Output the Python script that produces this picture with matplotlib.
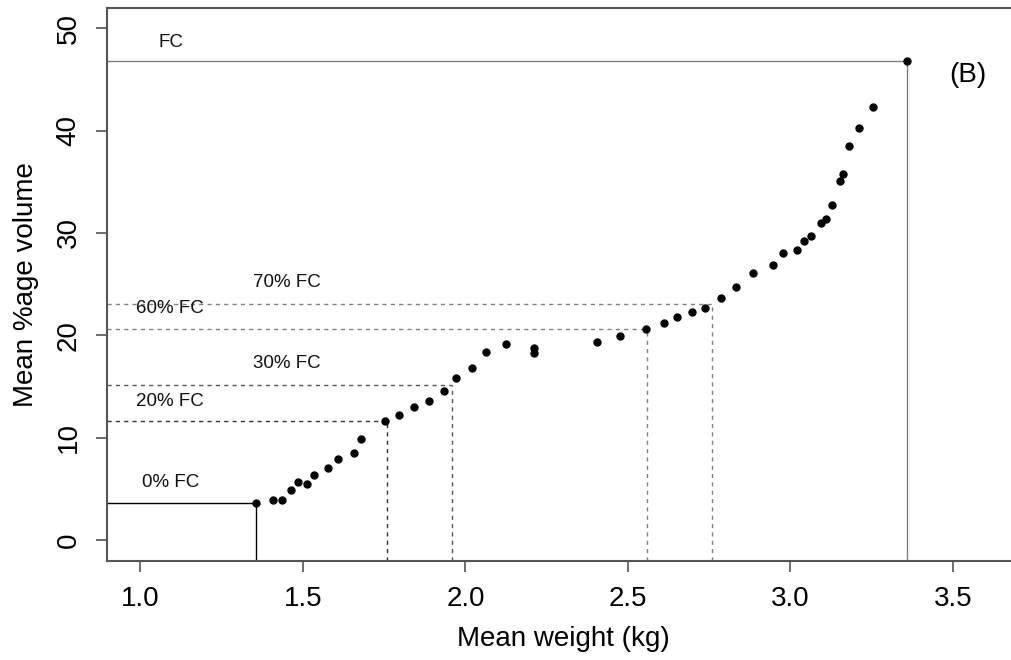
import matplotlib
matplotlib.use("Agg")
import matplotlib.pyplot as plt

plt.rcParams['font.family'] = ['Liberation Sans', 'DejaVu Sans']

weight = [1.357, 1.407, 1.437, 1.462, 1.486, 1.511, 1.534, 1.576, 1.607, 1.658,
          1.680, 1.751, 1.794, 1.841, 1.888, 1.933, 1.971, 2.021, 2.062, 2.125,
          2.210, 2.212, 2.404, 2.475, 2.555, 2.612, 2.650, 2.698, 2.736, 2.787,
          2.833, 2.886, 2.947, 2.976, 3.021, 3.041, 3.064, 3.093, 3.109, 3.127,
          3.153, 3.161, 3.181, 3.210, 3.254, 3.358]
volume = [3.64, 3.97, 3.97, 4.88, 5.69, 5.44, 6.35, 7.06, 7.94, 8.53,
          9.89, 11.59, 12.24, 13.02, 13.57, 14.55, 15.79, 16.83, 18.39, 19.17,
          18.78, 18.23, 19.31, 19.92, 20.61, 21.19, 21.75, 22.29, 22.72, 23.66,
          24.68, 26.10, 26.86, 28.00, 28.32, 29.17, 29.66, 30.96, 31.32, 32.74,
          35.03, 35.74, 38.48, 40.26, 42.29, 46.75]

# reference levels: label, x, y, text position
ref_labels = ["FC", "70% FC", "60% FC", "30% FC", "20% FC", "0% FC"]
ref_x = [3.357, 2.758, 2.557, 1.958, 1.759, 1.357]
ref_y = [46.75, 23.11, 20.60, 15.14, 11.59, 3.64]
label_x = [1.095, 1.449, 1.092, 1.449, 1.092, 1.092]
label_y = [48.6, 25.2, 22.6, 17.3, 13.5, 5.6]
ref_style = ["-", "--", "--", "--", "--", "-"]
ref_color = ["#808080", "#808080", "#808080", "#555555", "#333333", "#000000"]

xticks = [1.0, 1.5, 2.0, 2.5, 3.0, 3.5]
yticks = [0, 10, 20, 30, 40, 50]

fig = plt.figure(figsize=(10.12, 6.6), dpi=100)
ax = fig.add_axes([0.1054, 0.1505, 0.9018, 0.8379])
xmin, xmax = 0.896, 3.704
ymin, ymax = -2.0, 52.0
ax.set_xlim(xmin, xmax)
ax.set_ylim(ymin, ymax)

for lab, rx, ry, lx, ly, st, c in zip(ref_labels, ref_x, ref_y, label_x, label_y, ref_style, ref_color):
    ls = (0, (3, 3)) if st == "--" else "-"
    ax.plot([xmin, rx], [ry, ry], color=c, lw=1.0, linestyle=ls, zorder=2)
    ax.plot([rx, rx], [ymin, ry], color=c, lw=1.0, linestyle=ls, zorder=2)
    ax.text(lx, ly, lab, ha="center", va="center", fontsize=13.5, color="#111111")

ax.plot(weight, volume, "o", color="black", markersize=5, zorder=3)

ax.text(3.545, 45.4, "(B)", ha="center", va="center", fontsize=20)

ax.set_xticks(xticks)
ax.set_xticklabels([f"{t:.1f}" for t in xticks])
ax.set_yticks(yticks)
ax.set_yticklabels([str(t) for t in yticks], rotation=90, va="center")
ax.tick_params(direction="out", length=8, width=1.2, color="#555555",
               labelsize=20, pad=10)
for s in ax.spines.values():
    s.set_color("#555555")
    s.set_linewidth(1.5)

ax.set_xlabel("Mean weight (kg)", fontsize=20, labelpad=10)
ax.set_ylabel("Mean %age volume", fontsize=20, labelpad=12)

fig.savefig("out.png", dpi=100)
